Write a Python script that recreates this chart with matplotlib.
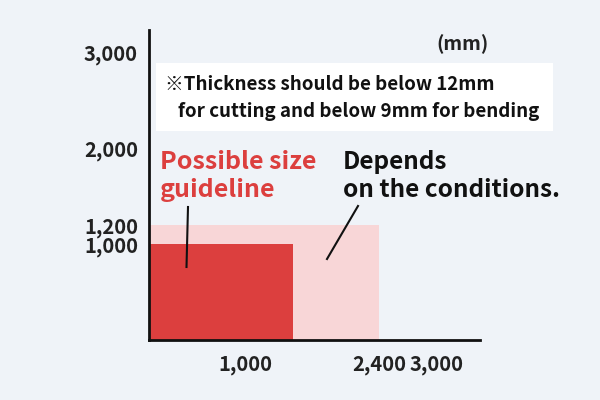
import matplotlib
matplotlib.use("Agg")
import matplotlib.pyplot as plt
from matplotlib.patches import Rectangle

plt.rcParams['font.family'] = ['Noto Sans CJK JP', 'DejaVu Sans']
plt.rcParams['font.weight'] = 'bold'

# data
x_ticks = [1000, 2400, 3000]
x_labels = ["1,000", "2,400", "3,000"]
y_ticks = [1000, 1200, 2000, 3000]
y_labels = ["1,000", "1,200", "2,000", "3,000"]
possible_w, possible_h = 1500, 1000
depends_w, depends_h = 2400, 1200

BG = "#eff3f8"
RED = "#dc3f3e"
PINK = "#f8d6d7"

fig = plt.figure(figsize=(6, 4), dpi=100, facecolor=BG)
ax = fig.add_axes([149/600, 60/400, 331/600, 310/400])
ax.set_facecolor(BG)
ax.set_xlim(0, 3448)
ax.set_ylim(0, 3229)

ax.add_patch(Rectangle((0, 0), depends_w, depends_h, facecolor=PINK, edgecolor='none'))
ax.add_patch(Rectangle((0, 0), possible_w, possible_h, facecolor=RED, edgecolor='none'))

for s in ['top', 'right']:
    ax.spines[s].set_visible(False)
for s in ['left', 'bottom']:
    ax.spines[s].set_linewidth(2)
    ax.spines[s].set_color('#111111')

ax.set_xticks(x_ticks)
ax.set_xticklabels(x_labels, fontsize=14.5, fontweight='bold', color='#222222')
ax.set_yticks(y_ticks)
ax.set_yticklabels(y_labels, fontsize=14.5, fontweight='bold', color='#222222')
ax.tick_params(axis='x', length=0, pad=10)
ax.tick_params(axis='y', length=0, pad=8)

# note box
fig.patches.append(Rectangle((156/600, 1 - 131/400), (553-156)/600, (131-63)/400,
                             transform=fig.transFigure, facecolor='white', edgecolor='none'))
fig.text(165/600, 1 - 84/400, "※Thickness should be below 12mm", fontsize=13.5,
         fontweight='bold', va='center', ha='left', color='#111111')
fig.text(178/600, 1 - 111/400, "for cutting and below 9mm for bending", fontsize=13.5,
         fontweight='bold', va='center', ha='left', color='#111111')
fig.text(463/600, 1 - 44/400, "(mm)", fontsize=14, fontweight='bold', va='center',
         ha='center', color='#222222')

fig.text(160/600, 1 - 176/400, "Possible size\nguideline", fontsize=18, fontweight='bold',
         color=RED, va='center', ha='left', linespacing=1.25)
fig.text(343/600, 1 - 176/400, "Depends\non the conditions.", fontsize=17.5, fontweight='bold',
         color='#111111', va='center', ha='left', linespacing=1.25)

fig.add_artist(plt.Line2D([188/600, 186.5/600], [1 - 207/400, 1 - 267/400], color='#111111', lw=1.5))
fig.add_artist(plt.Line2D([358/600, 327/600], [1 - 206/400, 1 - 259/400], color='#111111', lw=1.5))

fig.savefig("out.png", dpi=100, facecolor=BG)
